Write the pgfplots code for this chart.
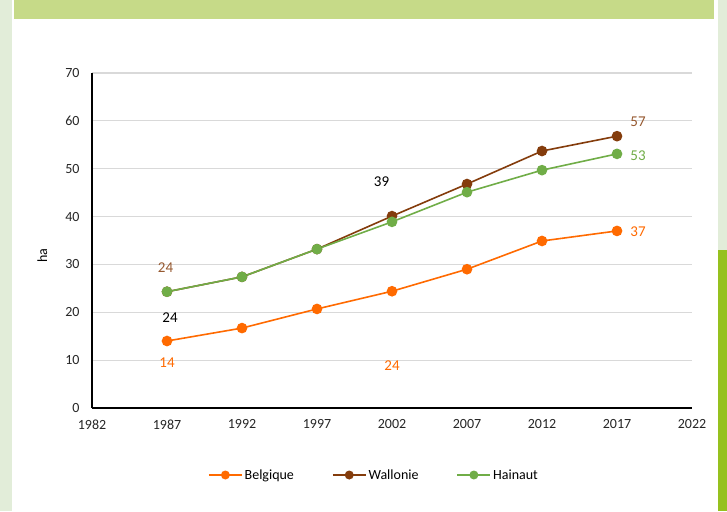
\documentclass[border=0pt]{standalone}
\usepackage{pgfplots}
\pgfplotsset{compat=1.18}
\usepackage{fontspec}
\setmainfont{Carlito}
\definecolor{cBel}{HTML}{FF6A00}
\definecolor{cWal}{HTML}{843C0C}
\definecolor{cHai}{HTML}{70AD47}
\definecolor{cTop}{HTML}{C6DA88}
\definecolor{cPale}{HTML}{E2EDD9}
\definecolor{cBright}{HTML}{96C11E}
\definecolor{cGrid}{HTML}{D9D9D9}
\begin{document}
\begin{tikzpicture}[x=1pt,y=1pt]
\fill[white] (0,0) rectangle (727,-511);
\fill[cPale] (0,0) rectangle (12,-511);
\fill[cTop] (14,0) rectangle (714,-19);
\fill[cPale] (718,0) rectangle (727,-250);
\fill[cBright] (718,-250) rectangle (727,-511);
\begin{axis}[
  at={(92pt,-408pt)}, anchor=south west,
  scale only axis, width=600pt, height=335pt,
  xmin=1982, xmax=2022, ymin=0, ymax=70,
  xtick={1982,1987,...,2022}, ytick={0,10,...,70},
  xticklabel style={/pgf/number format/1000 sep={}, yshift=-8pt},
  yticklabel style={xshift=-9pt},
  /pgf/number format/assume math mode=true,
  tick label style={font=\fontsize{14}{16}\selectfont, text=black!85},
  major tick length=0pt,
  axis x line*=bottom, axis y line*=left,
  axis line style={black, line width=1.3pt, -},
  ymajorgrids, grid style={cGrid, line width=1.2pt},
  ylabel={ha}, ylabel style={font=\fontsize{14}{16}\selectfont, anchor=center, at={(axis description cs:-0.083,0.455)}},
  legend style={at={(0.47,-0.2)}, anchor=center, draw=none, legend columns=3,
    font=\fontsize{14}{16}\selectfont, /tikz/every even column/.append style={column sep=36pt}},
  legend image code/.code={\draw[#1] (0pt,0pt) -- (33pt,0pt); \fill[#1, draw=none] (16.5pt,0pt) circle (4.5pt);},
  every axis plot/.append style={line width=1.6pt, mark=*, mark size=4.5pt},
  clip=false,
]
\addplot[cBel, mark options={fill=cBel, draw=cBel}] coordinates {(1987,14.0)(1992,16.7)(1997,20.7)(2002,24.4)(2007,29.0)(2012,34.9)(2017,37.0)};
\addlegendentry{Belgique}
\addplot[cWal, mark options={fill=cWal, draw=cWal}] coordinates {(1987,24.3)(1992,27.4)(1997,33.2)(2002,40.1)(2007,46.8)(2012,53.7)(2017,56.8)};
\addlegendentry{Wallonie}
\addplot[cHai, mark options={fill=cHai, draw=cHai}] coordinates {(1987,24.3)(1992,27.4)(1997,33.2)(2002,38.9)(2007,45.1)(2012,49.7)(2017,53.1)};
\addlegendentry{Hainaut}
\begin{scope}[every node/.style={font=\fontsize{15}{17}\selectfont}]
\node[text=cWal!85] at (axis cs:1986.9,29.3) {24};
\node[text=black] at (axis cs:1987.2,18.8) {24};
\node[text=cBel] at (axis cs:1987,9.4) {14};
\node[text=black] at (axis cs:2001.3,47.2) {39};
\node[text=cBel] at (axis cs:2002,8.8) {24};
\node[text=cWal!85] at (axis cs:2018.4,59.8) {57};
\node[text=cHai] at (axis cs:2018.4,52.7) {53};
\node[text=cBel] at (axis cs:2018.4,36.8) {37};
\end{scope}
\end{axis}
\end{tikzpicture}
\end{document}
